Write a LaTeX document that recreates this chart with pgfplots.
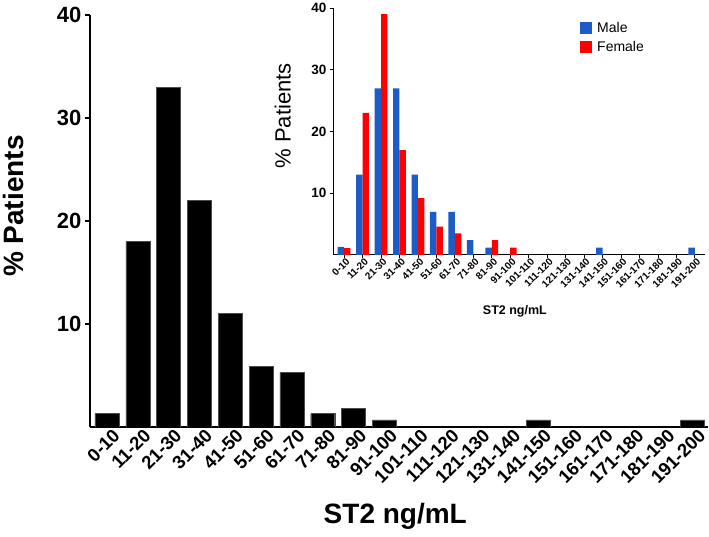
\documentclass[border=0pt]{standalone}
\usepackage{fontspec}
\setmainfont{Liberation Sans}
\usepackage{pgfplots}
\usepackage{pgfplotstable}
\pgfplotsset{compat=1.18}
\definecolor{maleblue}{RGB}{28,92,199}
\definecolor{femred}{RGB}{255,0,0}

% all patients (zero bins left out)
\pgfplotstableread{
idx val
0 1.3
1 18
2 33
3 22
4 11
5 5.9
6 5.3
7 1.3
8 1.8
9 0.7
14 0.7
19 0.7
}\alldata
\pgfplotstableread{
idx val
0 1.3
1 13
2 27
3 27
4 13
5 7
6 7
7 2.4
8 1.2
14 1.2
19 1.2
}\maledata
\pgfplotstableread{
idx val
0 1.1
1 23
2 39
3 17
4 9.2
5 4.6
6 3.5
8 2.4
9 1.2
}\femaledata

\begin{document}
\begin{tikzpicture}
\path[use as bounding box] (0,0) rectangle (709pt,537pt);
% main chart
\begin{axis}[
  at={(90pt,110pt)}, anchor=south west,
  scale only axis, width=618pt, height=412pt,
  ybar, bar width=24pt,
  xmin=-0.55, xmax=19.5, ymin=0, ymax=40,
  axis x line*=bottom, axis y line*=left,
  axis line style={-, line width=1.8pt},
  xtick={0,...,19},
  xticklabels={0-10,11-20,21-30,31-40,41-50,51-60,61-70,71-80,81-90,91-100,101-110,111-120,121-130,131-140,141-150,151-160,161-170,171-180,181-190,191-200},
  xtick style={draw=none},
  ytick={10,20,30,40},
  tick align=outside, major tick length=5pt,
  ytick style={line width=1.5pt, black},
  /pgf/number format/assume math mode=true,
  yticklabel style={font=\fontsize{22}{24}\selectfont\bfseries},
  xticklabel style={font=\fontsize{18.5}{20}\selectfont\bfseries, rotate=45, anchor=east, xshift=10pt, yshift=-7pt},
  ylabel={\% Patients},
  ylabel style={font=\fontsize{28}{30}\selectfont\bfseries, at={(axis description cs:-0.123,0.536)}, anchor=center},
  xlabel={ST2 ng/mL},
  xlabel style={font=\fontsize{28}{30}\selectfont\bfseries, at={(axis description cs:0.494,-0.218)}, anchor=center},
]
\addplot[fill=black, draw=black!70] table[x=idx, y=val] {\alldata};
\end{axis}
% inset by sex
\begin{axis}[
  at={(333pt,282pt)}, anchor=south west,
  scale only axis, width=372pt, height=247pt,
  ybar=0pt, bar width=6.4pt,
  xmin=-0.6, xmax=19.55, ymin=0, ymax=40,
  axis x line*=bottom, axis y line*=left,
  axis line style={-, line width=1pt},
  xtick={0,...,19},
  xticklabels={0-10,11-20,21-30,31-40,41-50,51-60,61-70,71-80,81-90,91-100,101-110,111-120,121-130,131-140,141-150,151-160,161-170,171-180,181-190,191-200},
  ytick={10,20,30,40},
  tick align=outside, major tick length=3pt,
  tick style={black, line width=0.8pt},
  /pgf/number format/assume math mode=true,
  yticklabel style={font=\fontsize{13.5}{15}\selectfont\bfseries},
  xticklabel style={font=\fontsize{10}{11}\selectfont\bfseries, rotate=45, anchor=east, xshift=5pt, yshift=-4pt},
  ylabel={\% Patients},
  ylabel style={font=\fontsize{22}{24}\selectfont, at={(axis description cs:-0.135,0.563)}, anchor=center},
  xlabel={ST2 ng/mL},
  xlabel style={font=\fontsize{12.5}{14}\selectfont\bfseries, at={(axis description cs:0.489,-0.227)}, anchor=center},
  legend style={draw=none, fill=none, at={(axis description cs:0.664,0.95)}, anchor=north west,
    font=\fontsize{14}{16}\selectfont, row sep=3pt, inner sep=0pt,
    nodes={inner xsep=5pt}},
  legend cell align=left,
  legend image code/.code={\fill[#1] (0pt,-6pt) rectangle (12pt,6pt);},
]
\addplot[fill=maleblue, draw=none] table[x=idx, y=val] {\maledata};
\addplot[fill=femred, draw=none] table[x=idx, y=val] {\femaledata};
\legend{Male, Female}
\end{axis}
\end{tikzpicture}
\end{document}
